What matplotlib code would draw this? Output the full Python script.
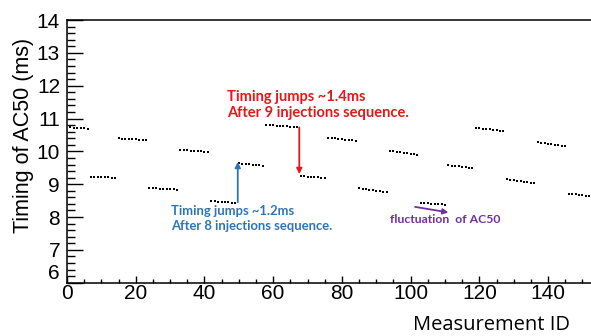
import numpy as np
import matplotlib
matplotlib.use("Agg")
import matplotlib.pyplot as plt
from matplotlib.ticker import MultipleLocator

# ---- data ----
first_id = 1
seg_values = [
    [10.73, 10.72, 10.72, 10.71, 10.70, 10.69],
    [9.23, 9.23, 9.22, 9.22, 9.21, 9.21, 9.20, 9.20],
    [10.40, 10.39, 10.39, 10.38, 10.38, 10.37, 10.36, 10.36, 10.35],
    [8.88, 8.87, 8.87, 8.86, 8.86, 8.85, 8.84, 8.84, 8.83],
    [10.04, 10.03, 10.03, 10.02, 10.01, 10.00, 10.00, 9.99, 9.98],
    [8.49, 8.48, 8.47, 8.46, 8.46, 8.45, 8.44, 8.43],
    [9.64, 9.63, 9.62, 9.61, 9.60, 9.59, 9.58, 9.57],
    [10.80, 10.79, 10.79, 10.78, 10.77, 10.76, 10.76, 10.75, 10.74, 10.73],
    [9.25, 9.24, 9.23, 9.22, 9.22, 9.21, 9.20, 9.19],
    [10.42, 10.41, 10.40, 10.39, 10.38, 10.36, 10.35, 10.34, 10.33],
    [8.88, 8.86, 8.85, 8.83, 8.82, 8.80, 8.79, 8.77, 8.76],
    [10.01, 10.00, 9.98, 9.97, 9.96, 9.94, 9.93, 9.92, 9.90],
    [8.44, 8.43, 8.42, 8.41, 8.41, 8.40, 8.39, 8.38],
    [9.58, 9.57, 9.55, 9.54, 9.53, 9.52, 9.50, 9.49],
    [10.72, 10.71, 10.69, 10.68, 10.67, 10.65, 10.64, 10.62, 10.61],
    [9.16, 9.14, 9.13, 9.11, 9.10, 9.08, 9.06, 9.05, 9.03],
    [10.29, 10.27, 10.25, 10.24, 10.22, 10.20, 10.18, 10.17, 10.15],
    [8.71, 8.70, 8.69, 8.68, 8.66, 8.65, 8.64, 8.63],
]
x_ticks = [0, 20, 40, 60, 80, 100, 120, 140]
y_ticks = [6, 7, 8, 9, 10, 11, 12, 13, 14]

red_text = "Timing jumps ~1.4ms\nAfter 9 injections sequence."
blue_text = "Timing jumps ~1.2ms\nAfter 8 injections sequence."
purple_text = "fluctuation  of AC50"
red_arrow = [(67.6, 10.73), (67.6, 9.31)]
blue_arrow = [(49.7, 8.45), (49.7, 9.68)]
purple_arrow = [(101.3, 8.31), (111.0, 8.14)]

values = np.concatenate([np.array(s) for s in seg_values])
ids = first_id + np.arange(len(values))

# ---- figure ----
W, H = 591, 336
fig = plt.figure(figsize=(W / 100, H / 100), dpi=100)
ax = fig.add_axes([67 / W, 53.3 / H, 1 - 67 / W, 262.6 / H])

ax.plot(ids, values, linestyle="none", marker="s", markersize=1.85,
        color="black", markeredgewidth=0)

ax.set_xlim(0, 152.5)
ax.set_ylim(6, 14)
ax.set_xticks(x_ticks)
ax.set_yticks(y_ticks)
ax.xaxis.set_minor_locator(MultipleLocator(5))
ax.yaxis.set_minor_locator(MultipleLocator(0.2))
ax.spines["right"].set_visible(False)
for s in ("left", "bottom", "top"):
    ax.spines[s].set_linewidth(1.1)

ax.tick_params(axis="both", which="both", direction="in", width=1.0, colors="black")
ax.tick_params(axis="y", which="major", length=11.5, pad=5)
ax.tick_params(axis="y", which="minor", length=5.8)
ax.tick_params(axis="x", which="major", length=5, pad=1)
ax.tick_params(axis="x", which="minor", length=2.6)
for lab in ax.get_xticklabels() + ax.get_yticklabels():
    lab.set_fontfamily("Liberation Sans")
    lab.set_fontsize(15)
ax.get_yticklabels()[0].set_va("bottom")

fig.text(24 / W, 1 - 135 / H, "Timing of AC50 (ms)", rotation=90,
         ha="center", va="center", family="Liberation Sans", size=15.5)
fig.text(570 / W, 1 - 325 / H, "Measurement ID", ha="right", va="center",
         family="Open Sans", size=14.5)

ann_font = ["Lato", "DejaVu Sans"]
ax.text(46.5, 11.41, red_text, color="#e8151b", family=ann_font, weight="bold",
        size=10.5, ha="left", va="center", linespacing=1.25)
ax.text(30.2, 7.97, blue_text, color="#2e75b6", family=ann_font, weight="bold",
        size=9.4, ha="left", va="center", linespacing=1.3)
ax.text(94.0, 7.94, purple_text, color="#7030a0", family=ann_font, weight="bold",
        size=8.8, ha="left", va="center")

for (p0, p1), c in ((red_arrow, "#e8151b"), (blue_arrow, "#2e75b6"), (purple_arrow, "#7030a0")):
    ax.annotate("", xy=p1, xytext=p0,
                arrowprops=dict(arrowstyle="-|>", color=c, lw=1.3,
                                mutation_scale=8, shrinkA=0, shrinkB=0))

fig.savefig("out.png", dpi=100)
